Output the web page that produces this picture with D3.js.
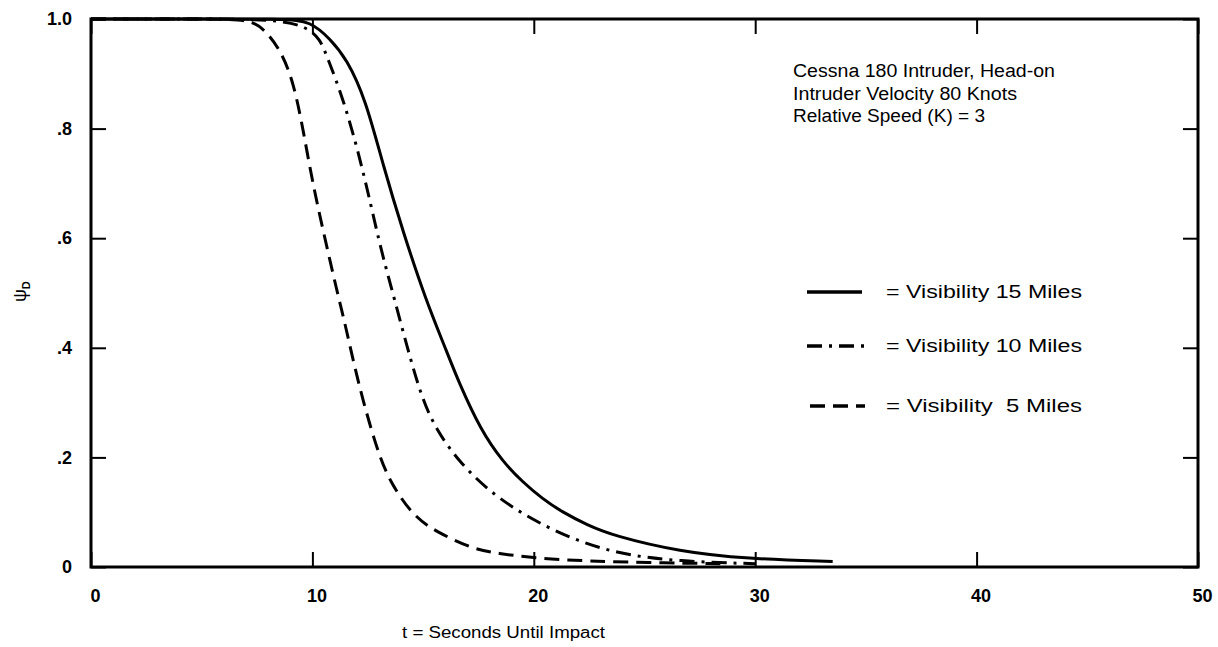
<!DOCTYPE html>
<html>
<head>
<meta charset="utf-8">
<script src="https://cdn.jsdelivr.net/npm/d3@7"></script>
<style>
  html, body { margin: 0; padding: 0; background: #fff; }
  svg { display: block; }
  text { font-family: "Liberation Sans", Arial, Helvetica, sans-serif; fill: #000; }
</style>
</head>
<body>
<svg id="chart" width="1218" height="647"></svg>
<script>
// ---------------- data ----------------
const xTicks = [0, 10, 20, 30, 40, 50];
const xTickLabels = ["0", "10", "20", "30", "40", "50"];
const yTicks = [0, 0.2, 0.4, 0.6, 0.8, 1.0];
const yTickLabels = ["0", ".2", ".4", ".6", ".8", "1.0"];

// Visibility 15 miles (solid)
const t15 = [0, 4, 8.8, 9.9, 10.8, 11.55, 12.4, 13.2, 14.1, 15.1, 16.0, 16.6, 17.6, 18.6, 19.5, 20.4, 21.3, 22.4, 23.6, 26.6, 29.6, 33.5];
const v15 = [1, 1, 1, 0.996, 0.964, 0.927, 0.854, 0.732, 0.611, 0.49, 0.40, 0.338, 0.25, 0.192, 0.155, 0.124, 0.10, 0.077, 0.057, 0.028, 0.015, 0.01];
// Visibility 10 miles (dash-dot)
const t10 = [0, 4, 8.5, 9.75, 10.35, 10.7, 11.4, 12.25, 13.05, 13.5, 14.3, 14.95, 15.6, 16.65, 18.35, 20.9, 23.6, 26.6, 30];
const v10 = [1, 1, 1, 0.985, 0.964, 0.927, 0.854, 0.732, 0.586, 0.52, 0.398, 0.307, 0.25, 0.19, 0.124, 0.064, 0.024, 0.01, 0.006];
// Visibility 5 miles (dashed)
const t5 = [0, 4, 6.5, 7.3, 7.8, 8.55, 9.15, 9.6, 10.0, 10.5, 11.1, 11.5, 12.05, 12.9, 13.5, 14.55, 15.6, 17.25, 18.3, 20.3, 22.5, 25, 28.5];
const v5 = [1, 1, 1, 0.995, 0.982, 0.945, 0.885, 0.794, 0.703, 0.611, 0.505, 0.44, 0.338, 0.215, 0.155, 0.093, 0.064, 0.033, 0.025, 0.015, 0.011, 0.008, 0.006];

const seriesNames = ["= Visibility 15 Miles", "= Visibility 10 Miles", "= Visibility  5 Miles"];
const annotationLines = ["Cessna 180 Intruder, Head-on", "Intruder Velocity 80 Knots", "Relative Speed (K) = 3"];
const xTitle = "t = Seconds Until Impact";

// ---------------- layout ----------------
const svg = d3.select("#chart");
const L = 91, R = 1198, T = 19, B = 567;
const x = d3.scaleLinear().domain([0, 50]).range([L, R]);
const y = d3.scaleLinear().domain([0, 1]).range([B, T]);

const styles = [
  { dash: null },
  { dash: "15,7,3,7" },
  { dash: "15,8" }
];
const series = [
  t15.map((t, i) => [t, v15[i]]),
  t10.map((t, i) => [t, v10[i]]),
  t5.map((t, i) => [t, v5[i]])
];

// curves
const line = d3.line().x(d => x(d[0])).y(d => y(d[1])).curve(d3.curveBasis);
svg.append("g").selectAll("path").data(series).join("path")
  .attr("d", line)
  .attr("fill", "none")
  .attr("stroke", "#000")
  .attr("stroke-width", 3)
  .attr("stroke-dasharray", (d, i) => styles[i].dash);

// axes (inward ticks)
const tickLen = 15;
const gB = svg.append("g").attr("transform", `translate(0,${B})`)
  .call(d3.axisBottom(x).tickValues(xTicks).tickFormat((d, i) => xTickLabels[i]).tickSize(-tickLen).tickPadding(22));
const gT = svg.append("g").attr("transform", `translate(0,${T})`)
  .call(d3.axisTop(x).tickValues(xTicks).tickFormat("").tickSize(-tickLen));
const gL = svg.append("g").attr("transform", `translate(${L},0)`)
  .call(d3.axisLeft(y).tickValues(yTicks).tickFormat((d, i) => yTickLabels[i]).tickSize(-tickLen).tickPadding(19));
const gR = svg.append("g").attr("transform", `translate(${R},0)`)
  .call(d3.axisRight(y).tickValues(yTicks).tickFormat("").tickSize(-tickLen));

[gB, gT, gL, gR].forEach(g => {
  g.select(".domain").remove();
  g.selectAll(".tick line").attr("stroke", "#000").attr("stroke-width", 2);
  g.selectAll(".tick text").style("font-family", '"Liberation Sans", Arial, sans-serif')
    .style("font-size", "18px").style("font-weight", "bold").attr("fill", "#000");
});
gB.selectAll(".tick text").attr("dx", 4);

// frame
svg.append("rect").attr("x", L).attr("y", T).attr("width", R - L).attr("height", B - T)
  .attr("fill", "none").attr("stroke", "#000").attr("stroke-width", 3);

// y label  psi_D
const yl = svg.append("text").attr("transform", "translate(26,302) rotate(-90)")
  .style("font-size", "18px");
yl.append("tspan").text("ψ");
yl.append("tspan").attr("dy", 4).style("font-size", "11px").style("font-weight", "bold").text("D");

// x title
svg.append("text").attr("x", 402).attr("y", 638).style("font-size", "16px")
  .attr("textLength", 203).attr("lengthAdjust", "spacingAndGlyphs").text(xTitle);

// annotation
const annW = [262, 224, 192];
const annY = [77, 100, 122];
svg.append("g").selectAll("text").data(annotationLines).join("text")
  .attr("x", 793).attr("y", (d, i) => annY[i])
  .style("font-size", "18px")
  .attr("textLength", (d, i) => annW[i]).attr("lengthAdjust", "spacingAndGlyphs")
  .text(d => d);

// legend
const legY = [292, 346, 406];
const legX = [[807, 862], [807, 868], [810, 865]];
const leg = svg.append("g");
leg.selectAll("line").data(seriesNames).join("line")
  .attr("x1", (d, i) => legX[i][0]).attr("x2", (d, i) => legX[i][1])
  .attr("y1", (d, i) => legY[i]).attr("y2", (d, i) => legY[i])
  .attr("stroke", "#000").attr("stroke-width", 3.5)
  .attr("stroke-dasharray", (d, i) => styles[i].dash);
leg.selectAll("text").data(seriesNames).join("text")
  .attr("x", 886).attr("y", (d, i) => legY[i] + 6)
  .style("font-size", "18px").style("white-space", "pre")
  .attr("textLength", 196).attr("lengthAdjust", "spacingAndGlyphs")
  .text(d => d);
</script>
</body>
</html>
